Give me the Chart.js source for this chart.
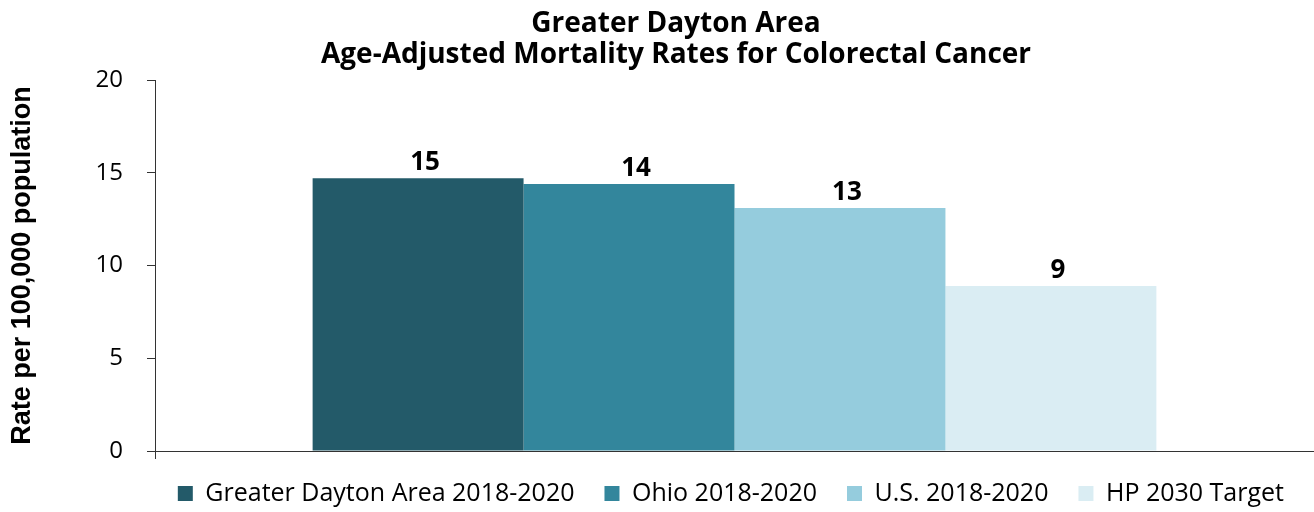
<!DOCTYPE html>
<html>
<head>
<meta charset="utf-8">
<script src="https://cdn.jsdelivr.net/npm/chart.js@4/dist/chart.umd.min.js"></script>
<style>
  html, body { margin: 0; padding: 0; background: #ffffff; }
  #wrap { width: 1314px; height: 512px; position: relative; }
</style>
</head>
<body>
<div id="wrap"><canvas id="c" width="1314" height="512"></canvas></div>
<script>
// ---- data ----
const titleLines = ["Greater Dayton Area", "Age-Adjusted Mortality Rates for Colorectal Cancer"];
const yAxisTitle = "Rate per 100,000 population";
const categories = [""];
const seriesNames = ["Greater Dayton Area 2018-2020", "Ohio 2018-2020", "U.S. 2018-2020", "HP 2030 Target"];
const seriesValues = [14.7, 14.4, 13.1, 8.9];
const seriesColors = ["#235A69", "#33869C", "#95CCDD", "#DAEDF3"];
const yTicks = [0, 5, 10, 15, 20];

const AXIS_COLOR = "#333333";

const titlePlugin = {
  id: "customTitle",
  afterDraw(chart) {
    const ctx = chart.ctx;
    ctx.save();
    ctx.fillStyle = "#000";
    ctx.font = "bold 28px 'Open Sans'";
    ctx.textAlign = "center";
    ctx.textBaseline = "alphabetic";
    const cx = 676;
    ctx.fillText(titleLines[0], cx, 32);
    ctx.fillText(titleLines[1], cx, 63);
    ctx.restore();
  }
};

const valueLabels = {
  id: "valueLabels",
  afterDatasetsDraw(chart) {
    const ctx = chart.ctx;
    ctx.save();
    ctx.fillStyle = "#000";
    ctx.font = "bold 26px 'Open Sans'";
    ctx.textAlign = "center";
    ctx.textBaseline = "alphabetic";
    chart.data.datasets.forEach((ds, i) => {
      const meta = chart.getDatasetMeta(i);
      meta.data.forEach((bar, j) => {
        const v = ds.data[j];
        ctx.fillText(String(Math.round(v)), bar.x + 7, bar.y - 8);
      });
    });
    ctx.restore();
  }
};

const datasets = seriesNames.map((name, i) => ({
  label: name,
  data: [seriesValues[i]],
  backgroundColor: seriesColors[i],
  borderWidth: 0,
  barPercentage: 1.0,
  categoryPercentage: 0.728
}));

new Chart(document.getElementById("c"), {
  type: "bar",
  data: { labels: categories, datasets },
  options: {
    responsive: false,
    animation: false,
    devicePixelRatio: 1,
    layout: { padding: { top: 80, left: 0, right: 0, bottom: 0 } },
    plugins: {
      title: { display: false },
      tooltip: { enabled: false },
      legend: {
        display: true,
        position: "bottom",
        align: "end",
        maxHeight: 61,
        labels: {
          boxWidth: 15,
          boxHeight: 15,
          padding: 30,
          color: "#000",
          font: { family: "'Open Sans'", size: 25 }
        }
      }
    },
    scales: {
      x: {
        type: "category",
        offset: true,
        grid: { display: true, drawOnChartArea: false, drawTicks: true, tickLength: 8, color: AXIS_COLOR, offset: true },
        border: { display: true, color: AXIS_COLOR, width: 1 },
        ticks: { display: false },
        afterFit: (s) => { s.height = 0; }
      },
      y: {
        min: 0,
        max: 20,
        afterBuildTicks: (s) => { s.ticks = yTicks.map(v => ({ value: v })); },
        grid: { display: true, drawOnChartArea: false, drawTicks: true, tickLength: 8, color: AXIS_COLOR },
        border: { display: true, color: AXIS_COLOR, width: 1 },
        ticks: {
          color: "#000",
          padding: 24,
          font: { family: "'Open Sans'", size: 24 }
        },
        title: {
          display: true,
          text: yAxisTitle,
          color: "#000",
          padding: { top: 6, bottom: 0 },
          font: { family: "'Liberation Sans'", size: 27, weight: "bold" }
        },
        afterFit: (s) => { s.width = 155; }
      }
    }
  },
  plugins: [titlePlugin, valueLabels]
});
</script>
</body>
</html>
